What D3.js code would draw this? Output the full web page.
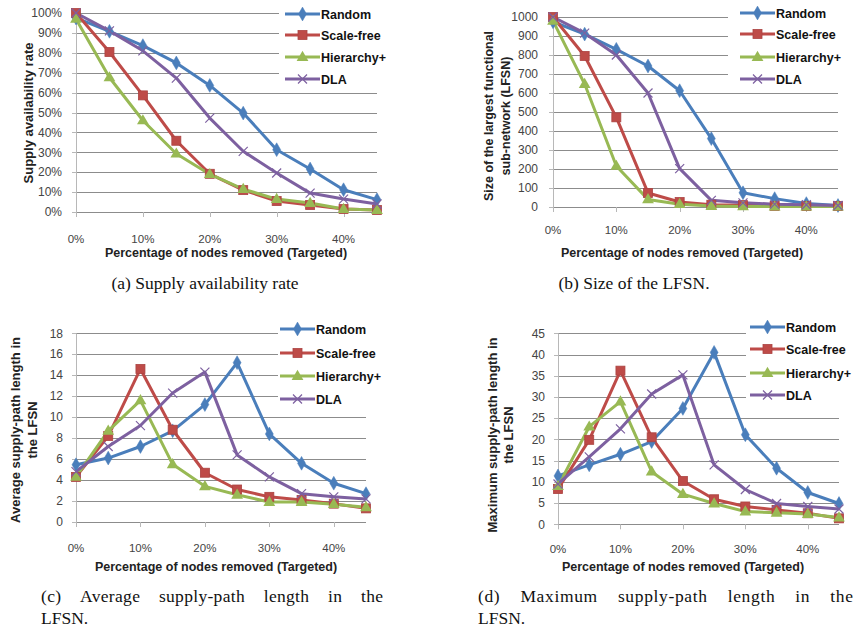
<!DOCTYPE html>
<html><head><meta charset="utf-8">
<script src="https://cdn.jsdelivr.net/npm/d3@7"></script>
<style>body{margin:0;background:#fff}</style>
</head><body><svg id="c" width="856" height="635"></svg>
<script>
// ---------- data ----------
const categories = ["0%","5%","10%","15%","20%","25%","30%","35%","40%","45%"];
const xTickLabels = ["0%","10%","20%","30%","40%"];
const seriesNames = ["Random","Scale-free","Hierarchy+","DLA"];
const seriesColors = ["#4a7ebb","#be4b48","#98b954","#7d60a0"];

// (a) Supply availability rate (%)
const availRandom    = [97.5, 90.8, 83.6, 74.9, 63.6, 49.7, 31.3, 21.6, 11.2, 6.2];
const availScaleFree = [100, 80.4, 58.6, 35.8, 19.2, 11, 5.5, 3.5, 1.5, 1];
const availHierarchy = [97, 67.6, 46, 29.3, 19, 11.5, 6.5, 4.5, 1.5, 1];
const availDLA       = [100, 91, 81, 67.3, 47.2, 30.5, 19.6, 9.5, 6.5, 4];
const availTicks = [0,10,20,30,40,50,60,70,80,90,100];

// (b) Size of the LFSN
const lfsnRandom    = [975, 910, 830, 742, 612, 360, 75, 44, 18, 8];
const lfsnScaleFree = [1000, 795, 472, 74, 26, 12, 10, 6, 5, 5];
const lfsnHierarchy = [980, 647, 216, 40, 15, 5, 3, 2, 2, 2];
const lfsnDLA       = [1000, 915, 800, 600, 202, 35, 22, 15, 12, 8];
const lfsnTicks = [0,100,200,300,400,500,600,700,800,900,1000];

// (c) Average supply-path length in the LFSN
const avgRandom    = [5.46, 6.1, 7.2, 8.7, 11.2, 15.2, 8.4, 5.6, 3.7, 2.7];
const avgScaleFree = [4.3, 8.2, 14.6, 8.8, 4.7, 3.1, 2.4, 2.1, 1.75, 1.3];
const avgHierarchy = [4.3, 8.7, 11.6, 5.5, 3.4, 2.6, 1.9, 1.9, 1.7, 1.4];
const avgDLA       = [4.8, 7.2, 9.2, 12.3, 14.3, 6.4, 4.3, 2.7, 2.4, 2.2];
const avgTicks = [0,2,4,6,8,10,12,14,16,18];

// (d) Maximum supply-path length in the LFSN
const maxRandom    = [11.4, 14.0, 16.5, 19.5, 27.3, 40.5, 21.1, 13.2, 7.5, 4.9];
const maxScaleFree = [8.3, 19.9, 36.2, 20.5, 10.2, 5.9, 4.2, 3.4, 2.6, 1.4];
const maxHierarchy = [9.0, 23, 28.9, 12.4, 7.1, 4.9, 3, 2.7, 2.4, 1.6];
const maxDLA       = [9.5, 15.9, 22.5, 30.7, 35.2, 14, 8.2, 4.9, 4.2, 3.6];
const maxTicks = [0,5,10,15,20,25,30,35,40,45];

const xTitle = "Percentage of nodes removed (Targeted)";

// ---------- layout ----------
const panels = [
  { series:[availRandom,availScaleFree,availHierarchy,availDLA], ticks:availTicks, fmt:d=>d+"%",
    x0:76, x1:377, yb:212, yt:13, tickLabY:242.5, titleY:257, titleCX:226, yLabX:62,
    ytitle:["Supply availability rate"], ytitleX:[32.5], ytitleCY:113, ytitleSize:13,
    leg:{x:279, y:4, w:140, h:82, lx0:285, lx1:320, ys:[14,35,57,79]},
    caption:{text:"(a) Supply availability rate", x:205, y:289, anchor:"middle"} },
  { series:[lfsnRandom,lfsnScaleFree,lfsnHierarchy,lfsnDLA], ticks:lfsnTicks, fmt:d=>d,
    x0:553, x1:838, yb:207, yt:17, tickLabY:234, titleY:257, titleCX:682, yLabX:538,
    ytitle:["Size of the largest functional","sub-network (LFSN)"], ytitleX:[492.5,509.5], ytitleCY:116, ytitleSize:12.5,
    leg:{x:728, y:4, w:128, h:82, lx0:740, lx1:775, ys:[13,34,57,79]},
    caption:{text:"(b) Size of the LFSN.", x:634, y:289, anchor:"middle"} },
  { series:[avgRandom,avgScaleFree,avgHierarchy,avgDLA], ticks:avgTicks, fmt:d=>d,
    x0:76, x1:366, yb:522, yt:333.3, tickLabY:552, titleY:571, titleCX:216, yLabX:63,
    ytitle:["Average supply-path length in","the LFSN"], ytitleX:[19.5,36.5], ytitleCY:430, ytitleSize:13,
    leg:{x:278, y:318, w:140, h:88, lx0:280, lx1:315, ys:[329,353,376,399]},
    caption:{text:"(c)\u00a0\u00a0\u00a0\u00a0Average\u00a0\u00a0\u00a0\u00a0supply-path\u00a0\u00a0\u00a0\u00a0length\u00a0\u00a0\u00a0\u00a0in\u00a0\u00a0\u00a0\u00a0the", x:41, y:602, anchor:"start", x2:383, line2:"LFSN."} },
  { series:[maxRandom,maxScaleFree,maxHierarchy,maxDLA], ticks:maxTicks, fmt:d=>d,
    x0:558, x1:839, yb:524.3, yt:333.3, tickLabY:553, titleY:571, titleCX:683, yLabX:545,
    ytitle:["Maximum supply-path length in","the LFSN"], ytitleX:[496.5,512.5], ytitleCY:435, ytitleSize:13,
    leg:{x:746, y:318, w:110, h:86, lx0:750, lx1:785, ys:[327,349,373,395]},
    caption:{text:"(d)\u00a0\u00a0\u00a0\u00a0Maximum\u00a0\u00a0\u00a0\u00a0supply-path\u00a0\u00a0\u00a0\u00a0length\u00a0\u00a0\u00a0\u00a0in\u00a0\u00a0\u00a0\u00a0the", x:478, y:602, anchor:"start", x2:853, line2:"LFSN."} }
];

const svg = d3.select("#c");
const sansFont = "'Liberation Sans', Arial, sans-serif";
const serifFont = "'Liberation Serif', 'Times New Roman', serif";

function marker(g, k, x, y, color) {
  if (k === 0) {
    g.append("path").attr("d", d3.symbol(d3.symbolDiamond, 55)())
      .attr("transform", `translate(${x},${y})`).attr("fill", color).attr("stroke", color).attr("stroke-width",0.5);
  } else if (k === 1) {
    g.append("rect").attr("x", x-4.5).attr("y", y-4.5).attr("width", 9).attr("height", 9)
      .attr("fill", color).attr("stroke", d3.color(color).darker(0.3)).attr("stroke-width",0.8);
  } else if (k === 2) {
    g.append("path").attr("d", d3.symbol(d3.symbolTriangle, 60)())
      .attr("transform", `translate(${x},${y+0.5})`).attr("fill", color);
  } else {
    const s = 4.5;
    g.append("path").attr("d", `M${x-s},${y-s}L${x+s},${y+s}M${x-s},${y+s}L${x+s},${y-s}`)
      .attr("stroke", color).attr("stroke-width", 1.2).attr("fill","none");
  }
}

panels.forEach(p => {
  const g = svg.append("g");
  const maxT = p.ticks[p.ticks.length-1];
  const x = d3.scalePoint().domain(categories).range([p.x0, p.x1]).padding(0);
  const y = d3.scaleLinear().domain([0, maxT]).range([p.yb, p.yt]);

  // gridlines
  g.selectAll(null).data(p.ticks).join("line")
    .attr("x1", p.x0).attr("x2", p.x1)
    .attr("y1", d => Math.round(y(d))+0.5).attr("y2", d => Math.round(y(d))+0.5)
    .attr("stroke", "#8c8c8c").attr("stroke-width", 1);
  // y-axis line
  g.append("line").attr("x1", p.x0+0.5).attr("x2", p.x0+0.5).attr("y1", p.yt).attr("y2", p.yb)
    .attr("stroke", "#b8b8b8");
  // y ticks small
  g.selectAll(null).data(p.ticks).join("line")
    .attr("x1", p.x0-4).attr("x2", p.x0)
    .attr("y1", d => Math.round(y(d))+0.5).attr("y2", d => Math.round(y(d))+0.5)
    .attr("stroke", "#b8b8b8");
  // x tick marks
  g.selectAll(null).data(xTickLabels).join("line")
    .attr("x1", d => Math.round(x(d))+0.5).attr("x2", d => Math.round(x(d))+0.5)
    .attr("y1", p.yb).attr("y2", p.yb+5).attr("stroke", "#b8b8b8");
  // y tick labels
  g.selectAll(null).data(p.ticks).join("text")
    .attr("x", p.yLabX).attr("y", d => y(d)).attr("dy", "0.35em")
    .attr("text-anchor", "end").attr("font-family", sansFont).attr("font-size", 12)
    .attr("fill", "#444").text(p.fmt);
  // x tick labels
  g.selectAll(null).data(xTickLabels).join("text")
    .attr("x", d => x(d)).attr("y", p.tickLabY)
    .attr("text-anchor", "middle").attr("font-family", sansFont).attr("font-size", 11.5)
    .attr("fill", "#444").text(d => d);
  // x title
  g.append("text").attr("x", p.titleCX).attr("y", p.titleY)
    .attr("text-anchor", "middle").attr("font-family", sansFont).attr("font-size", 12.5)
    .attr("font-weight", "bold").attr("fill", "#222").text(xTitle);
  // y title
  p.ytitle.forEach((t, i) => {
    g.append("text").attr("transform", `translate(${p.ytitleX[i]},${p.ytitleCY}) rotate(-90)`)
      .attr("text-anchor", "middle").attr("font-family", sansFont).attr("font-size", p.ytitleSize)
      .attr("font-weight", "bold").attr("fill", "#222").text(t);
  });

  // series lines
  const line = d3.line().x((d, i) => x(categories[i])).y(d => y(d));
  p.series.forEach((s, k) => {
    g.append("path").datum(s).attr("d", line).attr("fill", "none")
      .attr("stroke", seriesColors[k]).attr("stroke-width", 3).attr("stroke-linejoin", "round");
  });
  p.series.forEach((s, k) => {
    s.forEach((v, i) => marker(g, k, x(categories[i]), y(v), seriesColors[k]));
  });

  // legend
  const L = p.leg;
  g.append("rect").attr("x", L.x).attr("y", L.y).attr("width", L.w).attr("height", L.h).attr("fill", "#fff");
  seriesNames.forEach((n, k) => {
    g.append("line").attr("x1", L.lx0).attr("x2", L.lx1).attr("y1", L.ys[k]).attr("y2", L.ys[k])
      .attr("stroke", seriesColors[k]).attr("stroke-width", 3);
    marker(g, k, (L.lx0 + L.lx1)/2, L.ys[k], seriesColors[k]);
    g.append("text").attr("x", L.lx1 + 1).attr("y", L.ys[k]).attr("dy", "0.36em")
      .attr("font-family", sansFont).attr("font-size", 12.5).attr("font-weight", "bold")
      .attr("fill", "#111").text(n);
  });

  // caption
  const c = p.caption;
  const ct = g.append("text").attr("x", c.x).attr("y", c.y).attr("text-anchor", c.anchor)
    .attr("font-family", serifFont).attr("font-size", 17.5)
    .attr("fill", "#111").text(c.text);
  if (c.x2) {
    ct.attr("textLength", c.x2 - c.x).attr("lengthAdjust", "spacing");
    g.append("text").attr("x", c.x).attr("y", c.y + 22)
      .attr("font-family", serifFont).attr("font-size", 17.5)
      .attr("fill", "#111").text(c.line2);
  }
});
</script>
</body></html>
